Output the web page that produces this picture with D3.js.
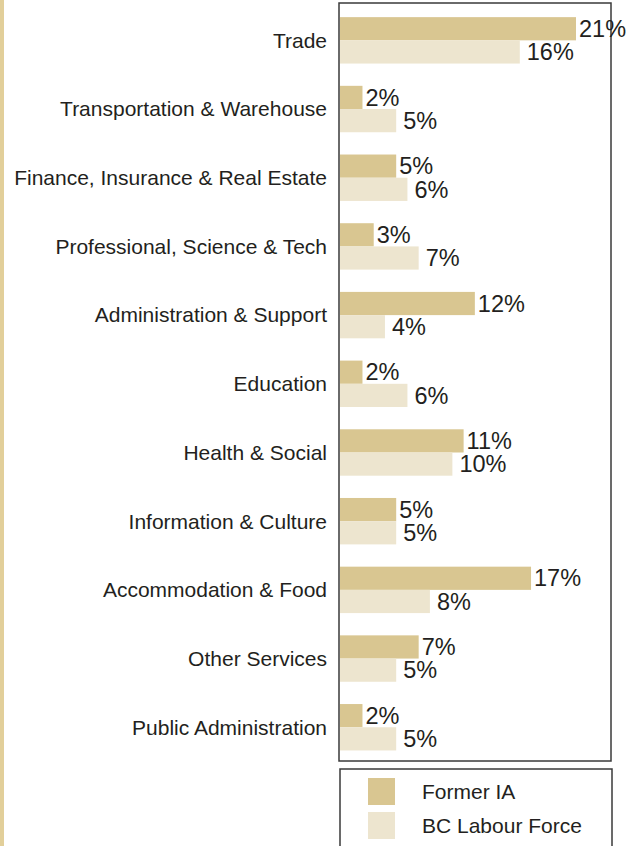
<!DOCTYPE html>
<html>
<head>
<meta charset="utf-8">
<script src="https://cdn.jsdelivr.net/npm/d3@7"></script>
<style>
  body { margin: 0; background: #fff; }
  svg { display: block; font-family: "Liberation Sans", Arial, Helvetica, sans-serif; }
</style>
</head>
<body>
<svg id="chart" width="628" height="846"></svg>
<script>
var categories = [
    "Trade",
    "Transportation & Warehouse",
    "Finance, Insurance & Real Estate",
    "Professional, Science & Tech",
    "Administration & Support",
    "Education",
    "Health & Social",
    "Information & Culture",
    "Accommodation & Food",
    "Other Services",
    "Public Administration"
];
var formerIA = [21, 2, 5, 3, 12, 2, 11, 5, 17, 7, 2];
var bcLabour = [16, 5, 6, 7, 4, 6, 10, 5, 8, 5, 5];
var seriesNames = ["Former IA", "BC Labour Force"];

var colors = {"Former IA": "#d9c691", "BC Labour Force": "#ede5cf"};
// label gap after bar end (second series sits a bit further out)
var labelGap = {"Former IA": 3, "BC Labour Force": 7};

var data = categories.map(function(c, i) {
    return {cat: c, "Former IA": formerIA[i], "BC Labour Force": bcLabour[i]};
});

var svg = d3.select("#chart");

// beige stripe down the left edge
svg.append("rect")
    .attr("x", 0).attr("y", 0)
    .attr("width", 4).attr("height", 846)
    .attr("fill", "#e2cf9a");

var x = d3.scaleLinear()
    .domain([0, 21])
    .range([340, 576]);

var y = d3.scaleBand()
    .domain(categories)
    .range([6, 761.6])
    .paddingInner(0);

var ySub = d3.scaleBand()
    .domain(seriesNames)
    .range([0, y.bandwidth()])
    .paddingInner(0)
    .paddingOuter(0.48);

// plot frame
svg.append("rect")
    .attr("x", 339).attr("y", 3)
    .attr("width", 272).attr("height", 758)
    .attr("fill", "none")
    .attr("stroke", "#3a3a3a")
    .attr("stroke-width", 1.5);

var groups = svg.selectAll(".group")
    .data(data)
  .enter().append("g")
    .attr("class", "group")
    .attr("transform", function(d) { return "translate(0," + y(d.cat) + ")"; });

groups.selectAll("rect")
    .data(function(d) { return seriesNames.map(function(k) { return {key: k, value: d[k]}; }); })
  .enter().append("rect")
    .attr("x", x(0))
    .attr("y", function(d) { return ySub(d.key); })
    .attr("width", function(d) { return x(d.value) - x(0); })
    .attr("height", ySub.bandwidth())
    .attr("fill", function(d) { return colors[d.key]; });

groups.selectAll(".val")
    .data(function(d) { return seriesNames.map(function(k) { return {key: k, value: d[k]}; }); })
  .enter().append("text")
    .attr("class", "val")
    .attr("x", function(d) { return x(d.value) + labelGap[d.key]; })
    .attr("y", function(d) { return ySub(d.key) + ySub.bandwidth() / 2; })
    .attr("dy", "0.35em")
    .attr("font-size", "23.5px")
    .attr("fill", "#231f20")
    .text(function(d) { return d.value + "%"; });

// category labels
svg.selectAll(".cat")
    .data(categories)
  .enter().append("text")
    .attr("class", "cat")
    .attr("x", 327)
    .attr("y", function(d) { return y(d) + y.bandwidth() / 2; })
    .attr("dy", "0.35em")
    .attr("text-anchor", "end")
    .attr("font-size", "21px")
    .attr("fill", "#231f20")
    .text(function(d) { return d; });

// legend
var legend = svg.append("g");
legend.append("rect")
    .attr("x", 340).attr("y", 769)
    .attr("width", 272).attr("height", 100)
    .attr("fill", "none")
    .attr("stroke", "#3a3a3a")
    .attr("stroke-width", 1.5);

var items = legend.selectAll(".item")
    .data(seriesNames)
  .enter().append("g")
    .attr("class", "item")
    .attr("transform", function(d, i) { return "translate(368," + (778 + i * 34) + ")"; });

items.append("rect")
    .attr("width", 27).attr("height", 27)
    .attr("fill", function(d) { return colors[d]; });

items.append("text")
    .attr("x", 54)
    .attr("y", 13.5)
    .attr("dy", "0.37em")
    .attr("font-size", "21px")
    .attr("fill", "#231f20")
    .text(function(d) { return d; });
</script>
</body>
</html>
